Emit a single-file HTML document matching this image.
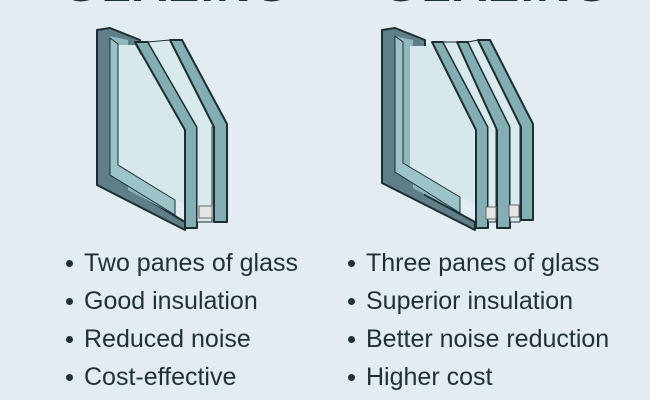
<!DOCTYPE html>
<html><head><meta charset="utf-8"><style>
html,body{margin:0;padding:0;}
body{width:650px;height:400px;overflow:hidden;background:#e3ecf1;position:relative;font-family:"Liberation Sans",sans-serif;}
.t{position:absolute;font-weight:bold;font-size:48px;color:#1f3138;top:-42px;letter-spacing:2px;}
ul{position:absolute;margin:0;padding:0;list-style:none;color:#1f3036;font-size:25px;}
li{height:38px;line-height:38px;position:relative;padding-left:18px;}
li:before{content:"";position:absolute;left:0;top:16px;width:7px;height:7px;border-radius:50%;background:#1f3036;}
</style></head><body>
<div class="t" style="left:62px">GLAZING</div>
<div class="t" style="left:382px">GLAZING</div>
<svg width="650" height="240" style="position:absolute;left:0;top:0" stroke="#1d2e33" stroke-width="2" stroke-linejoin="round">
<!-- left window -->
<polygon points="97,30 110,28 140,40 140,195 185,222 185,230 97,185" fill="#5f7f88"/>
<polygon points="110,36 128,40 128,190 175,215 110,175" fill="#8fb7bd" stroke="none"/>
<polygon points="118,45 135,45 185,130 185,205 118,165" fill="#d6e8ec" stroke="none"/>
<polygon points="110,175 110,38 118,44 118,165 175,200 175,215" fill="#9cc3c7" stroke-width="1"/>
<polygon points="135,42 148,42 197,127 197,228 185,228 185,130" fill="#83aeb4"/>
<polygon points="148,42 170,40 225,127 212,127 212,222 197,222 197,127" fill="#d8eaee" stroke-width="1"/>
<polygon points="170,40 182,40 227,124 227,222 214,222 214,127" fill="#83aeb4"/>
<rect x="199" y="206" width="13" height="12" fill="#e6e6e6" stroke="#666" stroke-width="1"/>
<!-- right window -->
<polygon points="382,30 395,28 425,40 425,195 475,222 475,230 382,183" fill="#5f7f88"/>
<polygon points="395,36 413,40 413,188 465,215 395,172" fill="#8fb7bd" stroke="none"/>
<polygon points="410,46 432,46 476,130 476,205 410,168" fill="#d6e8ec" stroke="none"/>
<polygon points="395,172 395,36 403,42 403,163 460,197 460,213" fill="#9cc3c7" stroke-width="1"/>
<polygon points="432,42 443,42 488,127 488,228 476,228 476,130" fill="#83aeb4"/>
<polygon points="443,42 457,42 507,127 496,127 496,222 488,222 488,127" fill="#d8eaee" stroke-width="1"/>
<polygon points="457,42 468,42 510,127 510,228 497,228 497,130" fill="#83aeb4"/>
<polygon points="468,42 478,40 532,127 520,127 520,222 510,222 510,127" fill="#d8eaee" stroke-width="1"/>
<polygon points="478,40 490,40 533,124 533,220 521,220 521,127" fill="#83aeb4"/>
<rect x="486" y="207" width="10" height="12" fill="#e6e6e6" stroke="#666" stroke-width="1"/>
<rect x="509" y="205" width="10" height="12" fill="#e6e6e6" stroke="#666" stroke-width="1"/>
</svg>
<ul style="left:66px;top:244px">
<li>Two panes of glass</li><li>Good insulation</li><li>Reduced noise</li><li>Cost-effective</li>
</ul>
<ul style="left:348px;top:244px">
<li>Three panes of glass</li><li>Superior insulation</li><li>Better noise reduction</li><li>Higher cost</li>
</ul>
</body></html>
